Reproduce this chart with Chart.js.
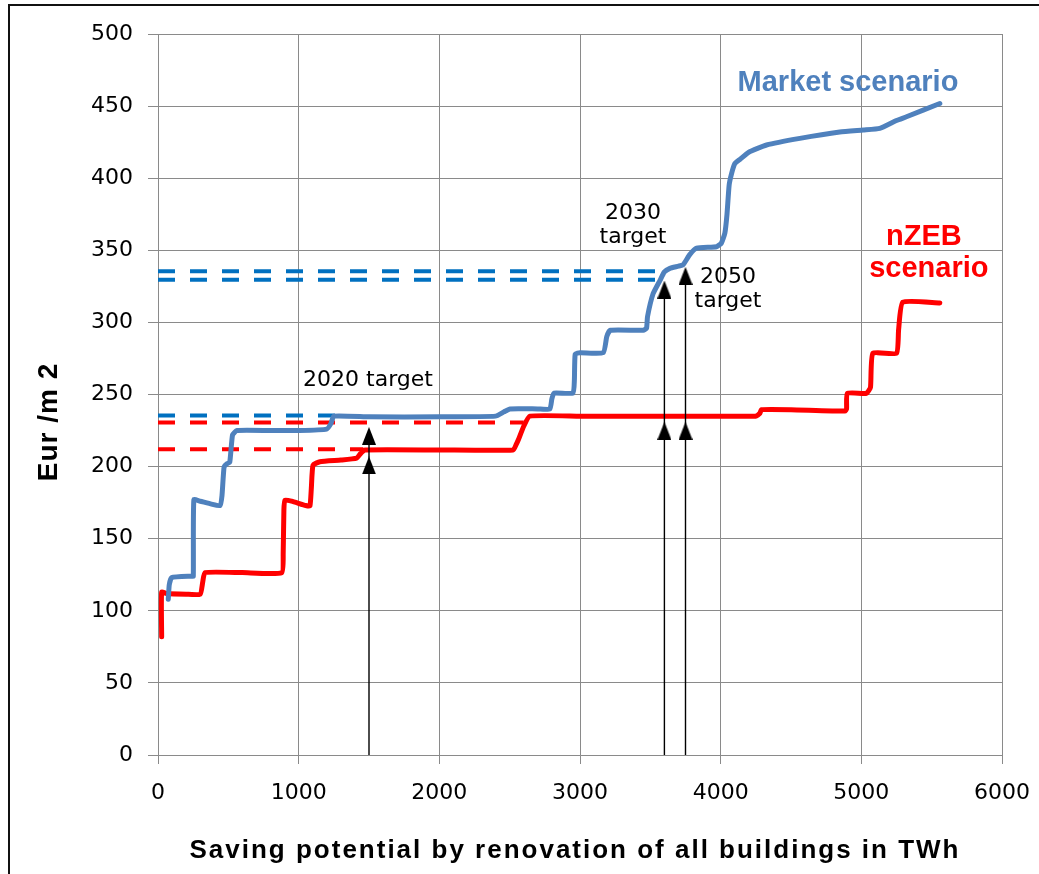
<!DOCTYPE html>
<html><head><meta charset="utf-8">
<script src="https://cdn.jsdelivr.net/npm/chart.js@4.4.0/dist/chart.umd.min.js"></script>
<style>html,body{margin:0;padding:0;background:#fff;}#wrap{width:1039px;height:874px;}</style>
</head><body><div id="wrap"><canvas id="c" width="1039" height="874"></canvas></div>
<script>
// ---- data ----
const marketX = [73,80,97,240,251,255,300,380,441,455,470,490,510,530,561,800,1000,1199,1230,1250,1500,2000,2400,2460,2502,2700,2786,2800,2815,2950,2960,2966,3000,3165,3190,3215,3450,3473,3480,3520,3568,3600,3639,3700,3733,3780,3829,3971,4005,4030,4045,4060,4077,4100,4136,4200,4326,4563,4847,5013,5131,5250,5321,5558];
const marketY = [108,118,123,124,124,177,176,174,173,180,200,202,203,222,225,225,225,226,230,235,234.5,234.5,235,238,240,240,240,247,251,251,260,278,279,279,290,294.5,294.5,296,304,320,329,335,337.5,339,340,347,351.5,352.5,355,362,375,395,403,410,413,418,423,427.6,432,433.4,434.5,440,442.6,451.8];
const nzebX = [26,26,60,200,300,318,334,600,879,890,895,903,950,1050,1080,1090,1102,1151,1300,1412,1440,1471,2000,2525,2545,2561,2600,2644,3000,4250,4279,4290,4500,4883,4895,4900,5036,5065,5082,5250,5265,5295,5558];
const nzebY = [82,113,112,111.5,111.5,120,126.5,126.5,126.4,140,170,176.8,176,173,172.7,185,201,203.4,204.5,205.8,209,211.5,211.5,211.5,215,218.4,228,235,235,235,237,239.5,239.5,238.5,240,250.8,250.8,255,278.6,278.6,295,314,313.5];

// dashed target levels
const targetLevelY    = [235.5, 230.5, 212, 335.5, 329.5];
const targetLevelEndX = [1265, 2600, 1460, 3575, 3575];
const targetLevelSeries = ['market','nzeb','nzeb','market','market'];

// target arrows
const arrowX      = [1500, 3600, 3750];
const arrowTopY   = [227.5, 329, 338.5];
const arrowLowTipY = [207, 231, 231];

// axis ticks
const xTickMin = 0, xTickMax = 6000, xTickStep = 1000;
const yTickMin = 0, yTickMax = 500, yTickStep = 50;

// text labels (data coordinates)
const noteTexts = ['2020 target','2030','target','2050','target'];
const noteX     = [1493, 3377, 3377, 4052, 4052];
const noteY     = [256, 371.5, 355, 327.3, 310.9];
const seriesLabelTexts = ['Market scenario','nZEB','scenario'];
const seriesLabelX = [4905, 5445, 5480];
const seriesLabelY = [460.8, 353.7, 331.7];
const seriesLabelSeries = ['market','nzeb','nzeb'];

// ---- styles ----
const COLORS = { market:'#4F81BD', nzeb:'#FF0000', marketDash:'#0070C0', nzebDash:'#FF0000' };
const HEAD_OFFSET = 6.2;

function pts(xs, ys){ return xs.map((x,i)=>({x:x,y:ys[i]})); }

function makeHead(){
  const c=document.createElement('canvas'); c.width=14; c.height=18;
  const g=c.getContext('2d'); g.fillStyle='#000'; g.beginPath();
  g.moveTo(7,0); g.lineTo(14,18); g.lineTo(0,18); g.closePath(); g.fill();
  return c;
}
const head = makeHead();

const datasets = [];
const headPts = [];
arrowX.forEach((x,i)=>{ headPts.push({x:x,y:arrowTopY[i]-HEAD_OFFSET}); headPts.push({x:x,y:arrowLowTipY[i]-HEAD_OFFSET}); });
datasets.push({label:'heads', data:headPts, showLine:false, pointStyle:head, pointRadius:5, pointHoverRadius:5});
arrowX.forEach((x,i)=>{
  datasets.push({label:'arrow'+i, data:[{x:x,y:0},{x:x,y:arrowTopY[i]-4}], showLine:true, borderColor:'#000', borderWidth:1.4, pointRadius:0});
});
datasets.push({label:'Market scenario', data:pts(marketX,marketY), showLine:true, borderColor:COLORS.market, borderWidth:5, pointRadius:0, tension:0.15, borderJoinStyle:'round', borderCapStyle:'round'});
datasets.push({label:'nZEB scenario', data:pts(nzebX,nzebY), showLine:true, borderColor:COLORS.nzeb, borderWidth:5, pointRadius:0, tension:0.15, borderJoinStyle:'round', borderCapStyle:'round'});
targetLevelY.forEach((y,i)=>{
  datasets.push({label:'level'+i, data:[{x:0,y:y},{x:targetLevelEndX[i],y:y}], showLine:true,
    borderColor: targetLevelSeries[i]==='market'?COLORS.marketDash:COLORS.nzebDash, borderWidth:4, borderDash:[17,15], pointRadius:0});
});

const frame = {
  id:'frame',
  beforeDraw(chart){
    const ctx=chart.ctx; ctx.save(); ctx.fillStyle='#fff'; ctx.fillRect(0,0,chart.width,chart.height); ctx.restore();
  },
  afterDraw(chart){
    const ctx=chart.ctx; ctx.save();
    ctx.strokeStyle='#111'; ctx.lineWidth=2;
    ctx.beginPath(); ctx.moveTo(9,874); ctx.lineTo(9,5); ctx.lineTo(1039,5); ctx.stroke();
    const xs=chart.scales.x, ys=chart.scales.y;
    ctx.fillStyle='#000';
    ctx.font='22px "DejaVu Sans"'; ctx.textAlign='center'; ctx.textBaseline='alphabetic';
    noteTexts.forEach((t,i)=>{
      ctx.fillText(t, xs.getPixelForValue(noteX[i]), ys.getPixelForValue(noteY[i]));
    });
    ctx.font='bold 29px "Liberation Sans"';
    seriesLabelTexts.forEach((t,i)=>{
      ctx.fillStyle=COLORS[seriesLabelSeries[i]];
      ctx.fillText(t, xs.getPixelForValue(seriesLabelX[i]), ys.getPixelForValue(seriesLabelY[i]));
    });
    ctx.fillStyle='#000';
    ctx.font='bold 26px "Liberation Sans"';
    if('letterSpacing' in ctx) ctx.letterSpacing='2px';
    ctx.fillText('Saving potential by renovation of all buildings in TWh', 575, 858);
    ctx.save();
    ctx.translate(57, 422); ctx.rotate(-Math.PI/2);
    ctx.font='bold 28px "Liberation Sans"';
    if('letterSpacing' in ctx) ctx.letterSpacing='1px';
    ctx.fillText('Eur /m 2', 0, 0);
    ctx.restore();
    ctx.restore();
  }
};

new Chart(document.getElementById('c'), {
  type:'scatter',
  data:{datasets:datasets},
  options:{
    responsive:false, animation:false, devicePixelRatio:1,
    layout:{padding:{left:0,top:34,right:37,bottom:0}},
    plugins:{legend:{display:false}, tooltip:{enabled:false}},
    scales:{
      x:{type:'linear', min:xTickMin, max:xTickMax,
        ticks:{stepSize:xTickStep, color:'#000', font:{family:'DejaVu Sans', size:22}, padding:16, callback:v=>String(v), maxRotation:0},
        grid:{color:'#8a8a8a', lineWidth:1, tickLength:9}, border:{color:'#8a8a8a'},
        afterFit(s){ s.height = 874-755; s.paddingRight = 0; s.paddingLeft = 0; }
      },
      y:{type:'linear', min:yTickMin, max:yTickMax,
        ticks:{stepSize:yTickStep, color:'#000', font:{family:'DejaVu Sans', size:22}, padding:15, callback:v=>String(v)},
        grid:{color:'#8a8a8a', lineWidth:1, tickLength:10}, border:{color:'#8a8a8a'},
        afterFit(s){ s.width = 158; s.paddingTop = 0; s.paddingBottom = 0; }
      }
    }
  },
  plugins:[frame]
});
</script></body></html>
